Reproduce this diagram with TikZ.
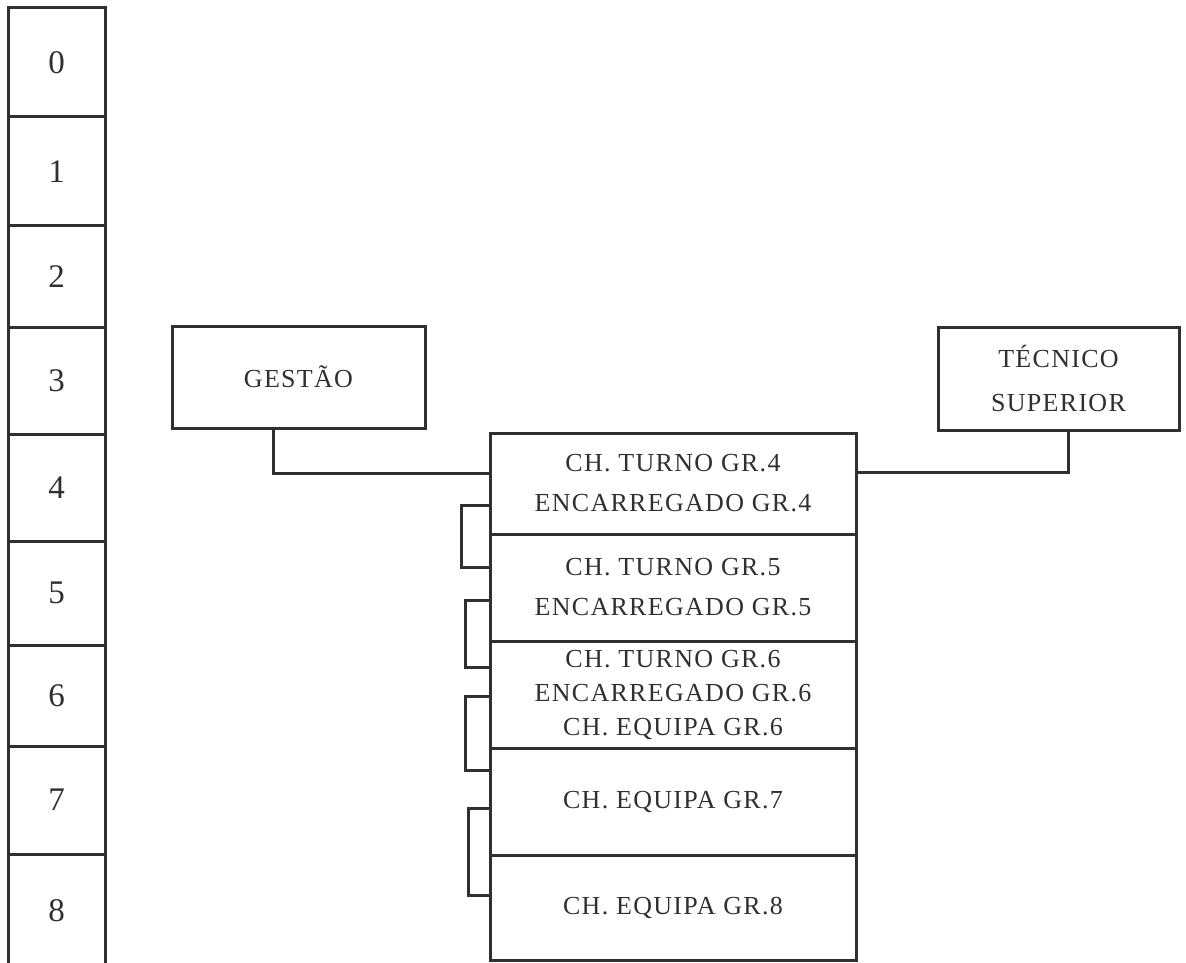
\documentclass[tikz,border=0pt]{standalone}
\usepackage{fontspec}
\setmainfont{Liberation Serif}
\newfontfamily\orgfont[LetterSpace=5]{Liberation Serif}
\usepackage{tikz}
\usetikzlibrary{positioning, calc}
\definecolor{inkgray}{HTML}{303030}
\tikzset{
  levelbox/.style={
    draw=inkgray, line width=1.5pt, minimum width=97pt*0.5,
    font=\fontsize{16.5}{18}\selectfont, text=inkgray, inner sep=0pt
  },
  rolebox/.style={
    draw=inkgray, line width=1.5pt, align=center, inner sep=0pt,
    font=\orgfont\fontsize{13}{20}\selectfont, text=inkgray
  },
  linkline/.style={
    draw=inkgray, line width=1.5pt
  },
}

\begin{document}
\begin{tikzpicture}[
  x=0.5pt, y=-0.5pt,
  stackbox/.style={rolebox, minimum width=366*0.5pt},
]
  \useasboundingbox (0,0) rectangle (1186,962);
  \clip (0,0) rectangle (1186,962);

  % --- Level column ---
  \node[levelbox, minimum height=109*0.5pt] (lvl0) at (56.5, 62.5) {0};
  \node[levelbox, minimum height=109*0.5pt] (lvl1) at (56.5, 171.5) {1};
  \node[levelbox, minimum height=101*0.5pt] (lvl2) at (56.5, 276.5) {2};
  \node[levelbox, minimum height=107*0.5pt] (lvl3) at (56.5, 380.5) {3};
  \node[levelbox, minimum height=107*0.5pt] (lvl4) at (56.5, 487.5) {4};
  \node[levelbox, minimum height=104*0.5pt] (lvl5) at (56.5, 593) {5};
  \node[levelbox, minimum height=101*0.5pt] (lvl6) at (56.5, 695.5) {6};
  \node[levelbox, minimum height=108*0.5pt] (lvl7) at (56.5, 800) {7};
  \node[levelbox, minimum height=114*0.5pt] (lvl8) at (56.5, 911) {8};

  % --- Side boxes ---
  \node[rolebox, minimum width=253*0.5pt, minimum height=102*0.5pt]
    (gestao) at (298.5, 377) {GESTÃO};
  \node[rolebox, minimum width=241*0.5pt, minimum height=103*0.5pt,
    font=\orgfont\fontsize{13}{22}\selectfont]
    (tecnico) at (1058.5, 378.5) {TÉCNICO\\SUPERIOR};

  % --- Stack of groups ---
  \node[stackbox, minimum height=101*0.5pt] (ch4) at (673, 483.5)
    {CH. TURNO GR.4\\ENCARREGADO GR.4};
  \node[stackbox, minimum height=107*0.5pt] (ch5) at (673, 587.5)
    {CH. TURNO GR.5\\ENCARREGADO GR.5};
  \node[stackbox, minimum height=107*0.5pt,
    font=\orgfont\fontsize{13}{17}\selectfont] (ch6) at (673, 694.5)
    {CH. TURNO GR.6\\ENCARREGADO GR.6\\CH. EQUIPA GR.6};
  \node[stackbox, minimum height=107*0.5pt] (ch7) at (673, 801.5)
    {CH. EQUIPA GR.7};
  \node[stackbox, minimum height=105*0.5pt] (ch8) at (673, 907.5)
    {CH. EQUIPA GR.8};

  % --- Links to side boxes ---
  \draw[linkline] ($(gestao.south)+(-25.5,0)$) |- ($(ch4.west)+(0,-10.5)$);
  \draw[linkline] ($(tecnico.south)+(9.5,0)$) |- ($(ch4.east)+(0,-11)$);

  % --- Brackets between groups ---
  \draw[linkline] ($(ch4.west)+(0,21.5)$) -- ++(-27,0) |- ($(ch5.west)+(0,-20.5)$);
  \draw[linkline] ($(ch5.west)+(0,12.5)$) -- ++(-23,0) |- ($(ch6.west)+(0,-27.5)$);
  \draw[linkline] ($(ch6.west)+(0,1.5)$) -- ++(-23,0) |- ($(ch7.west)+(0,-31.5)$);
  \draw[linkline] ($(ch7.west)+(0,6.5)$) -- ++(-20,0) |- ($(ch8.west)+(0,-12.5)$);
\end{tikzpicture}
\end{document}
